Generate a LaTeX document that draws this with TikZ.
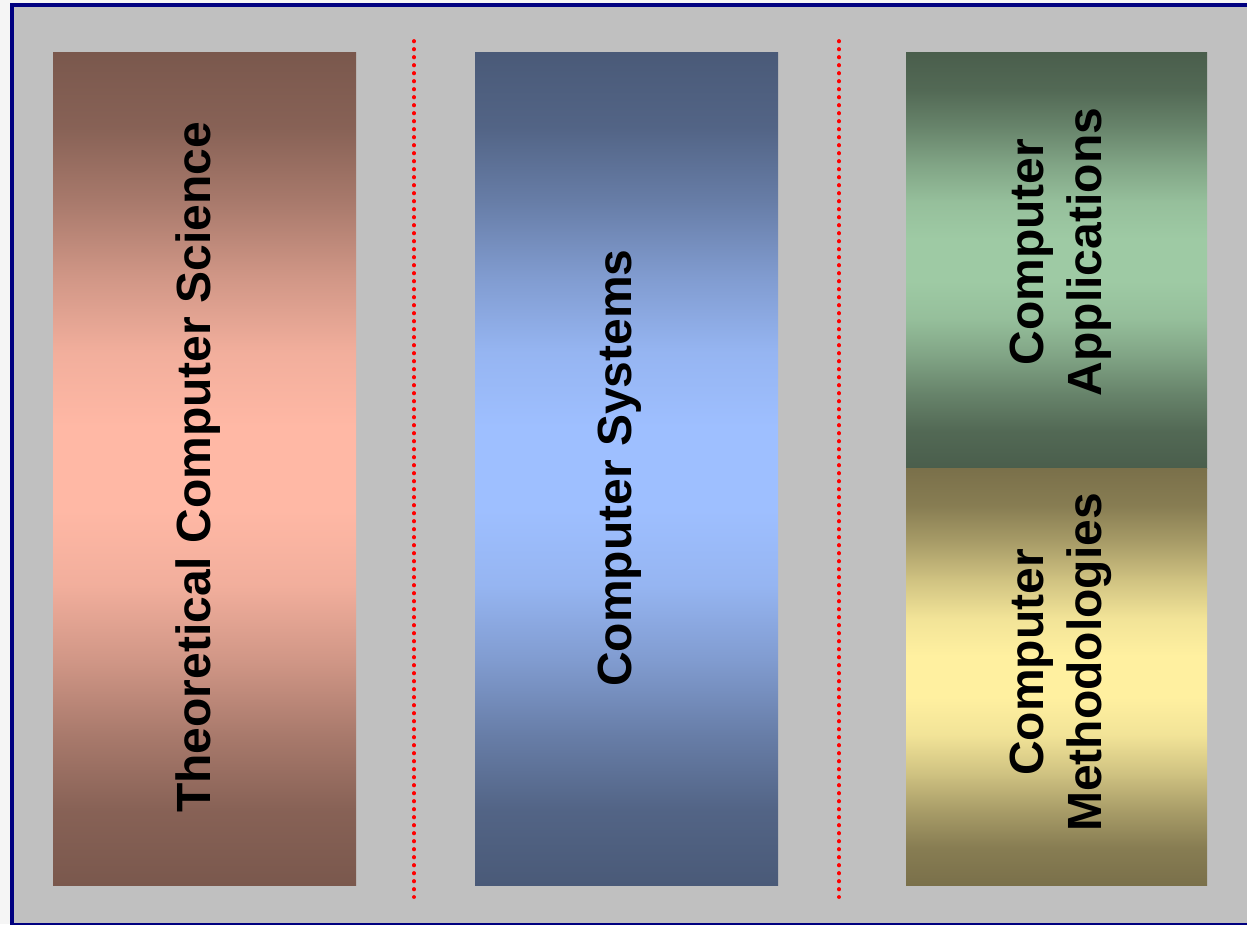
\documentclass[tikz,border=0pt]{standalone}
\usepackage{fontspec}
\setmainfont{Liberation Sans}
\definecolor{pagebg}{HTML}{F5F5F5}
\definecolor{slidebg}{HTML}{C0C0C0}
\definecolor{framec}{HTML}{000080}
\definecolor{brownD}{HTML}{7A584D}
\definecolor{brownL}{HTML}{FFB8A5}
\definecolor{blueD}{HTML}{4A5A78}
\definecolor{blueL}{HTML}{9EBFFF}
\definecolor{greenD}{HTML}{4A5E4C}
\definecolor{greenL}{HTML}{9ECAA4}
\definecolor{yelD}{HTML}{7A704A}
\definecolor{yelL}{HTML}{FFF0A0}
\definecolor{dotred}{HTML}{FF0000}
\newcommand{\mkshade}[3]{%
  \pgfdeclareverticalshading{#1}{100bp}{color(0bp)=(#2); color(25bp)=(#2);
    color(29.5bp)=(#3!10!#2); color(34bp)=(#3!35!#2); color(38.5bp)=(#3!65!#2);
    color(43bp)=(#3!90!#2); color(47.5bp)=(#3); color(52.5bp)=(#3);
    color(57bp)=(#3!90!#2); color(61.5bp)=(#3!65!#2); color(66bp)=(#3!35!#2);
    color(70.5bp)=(#3!10!#2); color(75bp)=(#2); color(100bp)=(#2)}}
\mkshade{brownsh}{brownD}{brownL}
\mkshade{bluesh}{blueD}{blueL}
\mkshade{greensh}{greenD}{greenL}
\mkshade{yelsh}{yelD}{yelL}
\tikzset{
  lbl/.style={rotate=90, anchor=base, inner sep=0pt, text=black,
    font=\fontsize{48}{58}\selectfont\bfseries},
  sep/.style={dotred, line width=3.8pt, line cap=round, dash pattern=on 0.4pt off 7.6pt},
}
\begin{document}
\begin{tikzpicture}[x=1pt,y=-1pt]
\useasboundingbox (0,0) rectangle (1247,924);
\fill[pagebg] (0,0) rectangle (1247,924);
\fill[slidebg] (12,5) rectangle (1262,925);
\draw[framec, line width=4.5pt] (12,5) rectangle (1262,925);
% panels
\shade[shading=brownsh] (53,52) rectangle (356,885);
\shade[shading=bluesh] (475,52) rectangle (778,885);
\shade[shading=greensh] (906,52) rectangle (1207,468);
\shade[shading=yelsh] (906,468) rectangle (1207,885);
% separators
\coordinate (s1a) at (414,41);
\coordinate (s1b) at (414,897);
\coordinate (s2a) at (839,41);
\coordinate (s2b) at (839,897);
\draw[sep] (s1a) -- (s1b);
\draw[sep] (s2a) -- (s2b);
% labels
\node[lbl] (tcs) at (210,467.5) {Theoretical Computer Science};
\node[lbl] (cs) at (631,468) {Computer Systems};
\node[lbl] (ca1) at (1043,252) {Computer};
\node[lbl] (ca2) at (1101,252) {Applications};
\node[lbl] (cm1) at (1043,662.5) {Computer};
\node[lbl] (cm2) at (1101,662.5) {Methodologies};
\end{tikzpicture}
\end{document}
